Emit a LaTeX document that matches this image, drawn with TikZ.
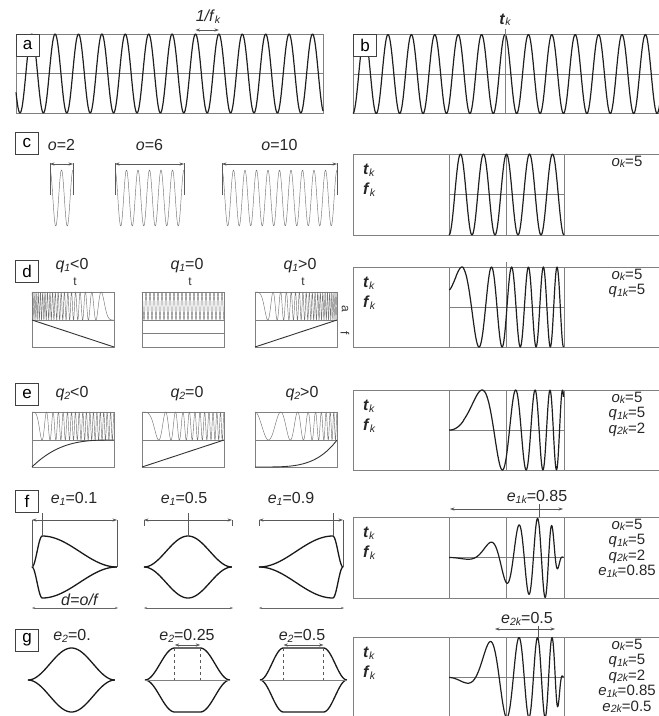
\documentclass[tikz,border=0pt]{standalone}
\usepackage{fontspec}
\setmainfont{Liberation Sans}
\usetikzlibrary{arrows.meta,positioning}

% small italic subscript as used in the labels
\newcommand\sub[1]{\raisebox{-0.2ex}{\fontsize{10.5}{10.5}\selectfont\itshape #1}}
\newcommand\Tk{\textbf{\textit{t}}\sub{k}}
\newcommand\Fk{\textbf{\textit{f}}\sub{k}}

\tikzset{
  frame/.style={draw=black!50, line width=0.8pt},
  guide/.style={draw=black!50, line width=0.6pt},
  wave/.style={draw=black!88, line width=1.2pt, line join=round},
  thinwave/.style={draw=black!55, line width=0.45pt, line join=round},
  envl/.style={draw=black!90, line width=1.3pt},
  curve/.style={draw=black!80, line width=0.9pt},
  tag/.style={draw=black!75, fill=white, line width=0.8pt, minimum width=23pt, minimum height=22pt, inner sep=0pt, font=\fontsize{17}{17}\selectfont},
  lbl/.style={font=\fontsize{16}{17}\selectfont, text=black!85, inner sep=1pt},
  small/.style={font=\fontsize{12}{12}\selectfont, text=black!80, inner sep=0.5pt},
  params/.style={lbl, align=center, anchor=north, inner sep=0.5pt, font=\fontsize{15}{15.5}\selectfont},
  bar/.style={draw=black!65, line width=0.6pt},
  dimthin/.style={<->, >={Stealth[length=3pt,width=2.2pt]}, draw=black!60, line width=0.5pt},
}

\begin{document}
\begin{tikzpicture}[x=1pt, y=-1pt, >={Stealth[length=4.5pt,width=3.2pt]},
  declare function={sq(\a)=\a*\a;
    env(\u,\p,\q)=(\u<\p) ? sq(cos(90*(\p-\u)/\p)) : ((\u>\q) ? sq(cos(90*(\u-\q)/(1-\q))) : 1);}]
\useasboundingbox (0,0) rectangle (659,716);

% panel a: the carrier
\draw[frame] (16,34) rectangle (323,113);
\draw[guide] (16,73.5) -- (323,73.5);
\draw[wave] plot[domain=16:323, samples=500] (\x, {73.5+39.5*cos((360/23.4)*(\x-20))});
\node[tag] (taga) at (27.5,45.5) {a};
\coordinate (pera) at (195.5,30);
\coordinate (perb) at (218.9,30);
\draw[<->, bar] (pera) -- (perb);
\node[lbl] (perlbl) at (208,17) {\textit{1/f}\sub{k}};

% panel b: carrier placed at tk
\draw[frame] (662,34) -- (353,34) -- (353,113) -- (662,113);
\draw[guide] (353,74) -- (662,74);
\draw[wave] plot[domain=353:662, samples=500] (\x, {74-39.5*cos((360/23.4)*(\x-505))});
\coordinate (tkb) at (505,29);
\draw[guide] (tkb) -- (505,113);
\node[tag] (tagb) at (365,45.5) {b};
\node[lbl, above=2pt of tkb] (tklbl) {\Tk};

% row c: number of oscillations
\node[tag] (tagc) at (27,143) {c};
\foreach \xs/\n [evaluate=\n as \xe using \xs+11.5*\n] in {50/2,115/6,222/10}{
  \draw[thinwave] plot[domain=\xs:\xe, samples=200] (\x, {198-28*cos((360/11.5)*(\x-\xs))});
  \coordinate (ol\n) at (\xs,164);
  \coordinate (or\n) at (\xe,164);
  \draw[bar] (\xs,163) -- (\xs,195) (\xe,163) -- (\xe,195);
  \draw[<->, bar] (ol\n) -- (or\n);
  \node[lbl] (olbl\n) at ({(\xs+\xe)/2},145) {\textit{o}=\n};
}

% right-hand panels: frame, time marks, midline, tk and fk
\foreach \yt/\yb [count=\i] in {154/235, 267/347, 390/470, 517/598, 637/718}{
  \draw[frame] (662,\yt) -- (353,\yt) -- (353,\yb) -- (662,\yb);
  \draw[guide] (449,\yt) -- (449,\yb) (506,\yt) -- (506,\yb) (564,\yt) -- (564,\yb);
  \draw[guide] (449,{(\yt+\yb)/2}) -- (564,{(\yt+\yb)/2});
  \node[lbl, anchor=west] (tk\i) at (362,\yt+16) {\Tk};
  \node[lbl, anchor=west] (fk\i) at (362,\yt+36) {\Fk};
}
\draw[guide] (506,262) -- (506,267);

% waves of the right-hand panels
\draw[wave] plot[domain=449:564, samples=200] (\x, {194.5-40.5*cos((360/23)*(\x-506.5))});
\draw[wave] plot[domain=0.001:1, samples=250] ({449+115*\x}, {307-40*cos(360*(5.72*\x^1.586-0.18))});
\draw[wave] plot[domain=0.001:1, samples=250] ({449+115*\x}, {430-40*cos(360*(4.38*\x^2.3-0.25))});
\draw[wave] plot[domain=0.001:1, samples=250] ({449+115*\x}, {557.5-40*env(\x,0.85,0.85)*cos(360*(4.38*\x^2.3-0.4))});
\draw[wave] plot[domain=0.001:1, samples=250] ({449+115*\x}, {677.5-40*env(\x,0.45,0.92)*cos(360*(4.38*\x^2.3-0.4))});

% parameters of the right-hand panels
\node[params] (parc) at (627,155) {\textit{o}\sub{k}=5};
\node[params] (pard) at (627,268) {\textit{o}\sub{k}=5\\\textit{q}\sub{1k}=5};
\node[params] (pare) at (627,391) {\textit{o}\sub{k}=5\\\textit{q}\sub{1k}=5\\\textit{q}\sub{2k}=2};
\node[params] (parf) at (627,518) {\textit{o}\sub{k}=5\\\textit{q}\sub{1k}=5\\\textit{q}\sub{2k}=2\\\textit{e}\sub{1k}=0.85};
\node[params] (parg) at (627,638) {\textit{o}\sub{k}=5\\\textit{q}\sub{1k}=5\\\textit{q}\sub{2k}=2\\\textit{e}\sub{1k}=0.85\\\textit{e}\sub{2k}=0.5};

% row d: linear chirp
\node[tag] (tagd) at (27,271) {d};
\foreach \yt/\ym/\yb in {292/320/347, 412/440/467}{
  \foreach \xl in {32,142,255}{
    \draw[frame, line width=0.6pt] (\xl,\yt) rectangle ++(82,{\yb-\yt});
    \draw[frame, line width=0.6pt] (\xl,\ym) -- ++(82,0);
  }
}
\draw[thinwave] plot[domain=0:1, samples=500] ({32+82*\x}, {306-14*cos(360*41*(\x-\x*\x/2))});
\draw[thinwave] plot[domain=0:1, samples=400] ({142+82*\x}, {306-14*cos(360*20.5*\x)});
\draw[thinwave] plot[domain=0:1, samples=500] ({255+82*\x}, {306-14*cos(360*20.5*\x*\x)});
\draw[curve] (32,320) -- (114,347);
\draw[guide] (142,333.5) -- (224,333.5);
\draw[curve] (255,347) -- (337,320);
\foreach \lx/\rel [count=\i] in {72/<,187/=,300/>}{
  \node[lbl] (dq\i) at (\lx,266) {\textit{q}\sub{1}\rel0};
  \node[small] (dt\i) at (\lx+3,282) {t};
}
\node[small, rotate=-90] (da) at (345,309) {a};
\node[small, rotate=-90] (df) at (345,333) {f};

% row e: curved chirp
\node[tag] (tage) at (27,394) {e};
\draw[thinwave] plot[domain=0:1, samples=500] ({32+82*\x}, {426-14*cos(360*24*(\x-(1-(1-\x)*(1-\x)*(1-\x)*(1-\x))/4))});
\draw[thinwave] plot[domain=0:1, samples=400] ({142+82*\x}, {426-14*cos(360*12*\x*\x)});
\draw[thinwave] plot[domain=0:1, samples=400] ({255+82*\x}, {426-14*cos(360*(3*\x+6*\x*\x*\x*\x))});
\draw[curve] plot[domain=0:1, samples=60] ({32+82*\x}, {467-27*(1-(1-\x)*(1-\x)*(1-\x))});
\draw[curve] (142,467) -- (224,440);
\draw[curve] plot[domain=0:1, samples=60] ({255+82*\x}, {467-27*\x*\x*\x*\x});
\foreach \lx/\rel [count=\i] in {72/<,187/=,302/>}{
  \node[lbl] (eq\i) at (\lx,394) {\textit{q}\sub{2}\rel0};
}

% row f: position of the envelope peak
\node[tag] (tagf) at (27,501) {f};
\foreach \xl/\w/\e/\lx/\lab [count=\i] in {32/85/0.12/74/0.1, 144/88/0.5/184/0.5, 259/84/0.88/291/0.9}{
  \draw[envl] plot[domain=0:1, samples=90] ({\xl+\w*\x}, {567-31*env(\x,\e,\e)});
  \draw[envl] plot[domain=0:1, samples=90] ({\xl+\w*\x}, {567+31*env(\x,\e,\e)});
  \coordinate (fp\i) at ({\xl+\w*\e},520);
  \coordinate (fl\i) at (\xl,520);
  \coordinate (fr\i) at ({\xl+\w},520);
  \draw[->, bar] (fp\i) -- (fl\i);
  \draw[->, bar] (fp\i) -- (fr\i);
  \draw[bar] ({\xl+\w*\e},513) -- ({\xl+\w*\e},536);
  \coordinate (dl\i) at (\xl,608);
  \coordinate (dr\i) at ({\xl+\w+1},608);
  \draw[dimthin] (dl\i) -- (dr\i);
  \node[lbl] (fe\i) at (\lx,499) {\textit{e}\sub{1}=\lab};
}
\draw[bar] (fl1) -- (32,567) (fr1) -- (117,567) (fr3) -- (343,567);
\draw[bar] (fl2) -- ++(0,6) (fr2) -- ++(0,6) (fl3) -- ++(0,6);
\node[lbl, fill=white, inner sep=0pt] (dlbl) at (80,600) {\textit{d}=\textit{o/f}};

% row g: plateau of the envelope
\node[tag] (tagg) at (27,640) {g};
\foreach \xl/\w/\p/\q/\lx/\lab [count=\i] in {28/87/0.5/0.5/72/0., 145/85/0.35/0.65/187/0.25, 260/87/0.27/0.73/302/0.5}{
  \draw[envl] plot[domain=0:1, samples=90] ({\xl+\w*\x}, {680-32*env(\x,\p,\q)});
  \draw[envl] plot[domain=0:1, samples=90] ({\xl+\w*\x}, {680+32*env(\x,\p,\q)});
  \node[lbl] (ge\i) at (\lx,636) {\textit{e}\sub{2}=\lab};
}
\foreach \xl/\w/\p/\q [count=\i] in {145/85/0.35/0.65, 260/87/0.27/0.73}{
  \draw[guide] (\xl,680) -- ++(\w,0);
  \coordinate (gl\i) at ({\xl+\w*\p},645);
  \coordinate (gr\i) at ({\xl+\w*\q},645);
  \draw[bar, dashed] ({\xl+\w*\p},648) -- ({\xl+\w*\p},680) ({\xl+\w*\q},648) -- ({\xl+\w*\q},680);
  \draw[<->, bar, line width=0.8pt] (gl\i) -- (gr\i);
}

% markers above the right panels of rows f and g
\node[lbl] (e1k) at (537,497) {\textit{e}\sub{1k}=0.85};
\coordinate (e1m) at (539,509);
\coordinate (e1l) at (450,509);
\coordinate (e1r) at (563,509);
\draw[bar] (539,504) -- (539,517);
\draw[->, bar] (e1m) -- (e1l);
\draw[->, bar] (e1m) -- (e1r);
\node[lbl] (e2k) at (527,619) {\textit{e}\sub{2k}=0.5};
\coordinate (e2m) at (538,629);
\coordinate (e2l) at (495,629);
\coordinate (e2r) at (555,629);
\draw[bar] (538,626) -- (538,637);
\draw[->, bar] (e2m) -- (e2l);
\draw[->, bar] (e2m) -- (e2r);
\end{tikzpicture}
\end{document}
